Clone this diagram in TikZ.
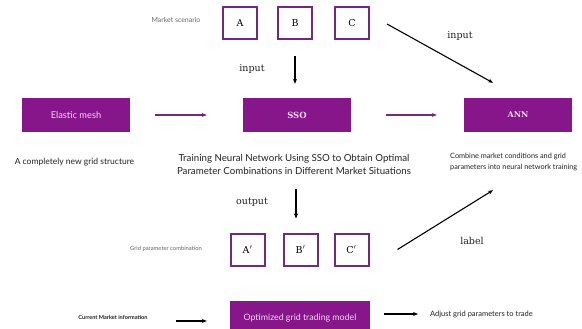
\documentclass[tikz,border=0pt]{standalone}
\usepackage{fontspec}
\setmainfont{DejaVu Serif}
\newfontfamily\lato{Lato}
\usetikzlibrary{arrows.meta}
\definecolor{pfill}{HTML}{86168A}
\definecolor{pline}{HTML}{74297F}
\definecolor{ptext}{HTML}{F3D6F3}
\definecolor{greytxt}{HTML}{666666}
\definecolor{darktxt}{HTML}{222222}
\tikzset{
  sq/.style={draw=pline, line width=2pt, fill=white, minimum width=34pt, minimum height=32pt, inner sep=0pt, font=\fontsize{9.5}{11}\selectfont},
  pbox/.style={fill=pfill, minimum width=108pt, minimum height=34pt, inner sep=0pt, text=ptext},
  arr/.style={-{Stealth[length=5pt,width=4pt]}, line width=1.1pt, black},
  parr/.style={-{Stealth[length=5pt,width=4pt]}, line width=1.2pt, pline},
  serif/.style={font=\fontsize{9.5}{11}\selectfont, text=darktxt},
}
\begin{document}
\begin{tikzpicture}[x=1pt, y=-1pt]
\useasboundingbox (0,0) rectangle (582,329);
\clip (0,0) rectangle (582,329);
\fill[white] (0,0) rectangle (582,329);

% market scenarios
\node[font=\lato\fontsize{6.9}{8}\selectfont, text=greytxt] (ms) at (176,20) {Market scenario};
\node[sq] (A) at (240,23) {A};
\node[sq] (B) at (295,23) {B};
\node[sq] (C) at (352,23) {C};
\node[serif] (in1) at (252,69) {input};
\node[serif] (in2) at (460,36) {input};

% main row
\node[pbox, font=\lato\fontsize{9.3}{11}\selectfont] (EM) at (76,115) {Elastic mesh};
\node[pbox, font=\fontsize{8.5}{10}\selectfont\bfseries] (SSO) at (297,115) {SSO};
\node[pbox, font=\fontsize{8}{10}\selectfont\bfseries] (ANN) at (518,115) {ANN};

% captions
\node[font=\lato\fontsize{8.5}{10}\selectfont, text=darktxt] (cap1) at (74.5,162) {A completely new grid structure};
\node[font=\lato\fontsize{9.7}{13}\selectfont, text=darktxt, align=center] (cap2) at (294,164)
  {Training Neural Network Using SSO to Obtain Optimal\\Parameter Combinations in Different Market Situations};
\node[font=\lato\fontsize{7.3}{11}\selectfont, text=darktxt, align=left, anchor=west, inner sep=0pt] (cap3) at (450,162)
  {Combine market conditions and grid\\parameters into neural network training};

% outputs
\node[serif] (out) at (252,202) {output};
\node[font=\lato\fontsize{5.8}{7}\selectfont, text=greytxt] (gpc) at (166,249) {Grid parameter combination};
\node[sq] (A2) at (247.5,249.5) {A$'$};
\node[sq] (B2) at (300.5,249.5) {B$'$};
\node[sq] (C2) at (351.5,249.5) {C$'$};
\node[serif] (lab) at (472,241) {label};

% bottom row
\node[fill=pfill, minimum width=140pt, minimum height=34pt, inner sep=0pt, text=ptext,
  font=\lato\fontsize{8.8}{10}\selectfont] (opt) at (300,318) {Optimized grid trading model};
\node[font=\lato\bfseries\fontsize{5.6}{7}\selectfont, text=darktxt] (cur) at (113,317) {Current Market information};
\node[font=\lato\fontsize{7.5}{8}\selectfont, text=darktxt, anchor=west, inner sep=0pt] (adj) at (430,314) {Adjust grid parameters to trade};

% connectors
\draw[arr, shorten <=16pt, shorten >=14pt] (B.south) -- (B.south |- SSO.north);
\draw[arr] ([xshift=17pt,yshift=-1pt]C.east) -- ([xshift=-25pt,yshift=15pt]ANN.north);
\draw[parr, shorten <=25pt, shorten >=36pt] (EM.east) -- (SSO.west);
\draw[parr, shorten <=35pt, shorten >=27pt] (SSO.east) -- (ANN.west);
\draw[arr, shorten <=57pt, shorten >=14pt] ([xshift=-1pt]SSO.south) -- ([xshift=-1pt]SSO.south |- B2.north);
\draw[arr] ([xshift=28pt]C2.east) -- ([xshift=-25pt,yshift=-58pt]ANN.south);
\draw[arr] ([xshift=25pt,yshift=-4pt]cur.east) -- ([xshift=-23pt,yshift=-4pt]cur.east -| opt.west);
\draw[arr, shorten <=14pt, shorten >=12pt] (opt.east |- adj.west) -- (adj.west);
\end{tikzpicture}
\end{document}
